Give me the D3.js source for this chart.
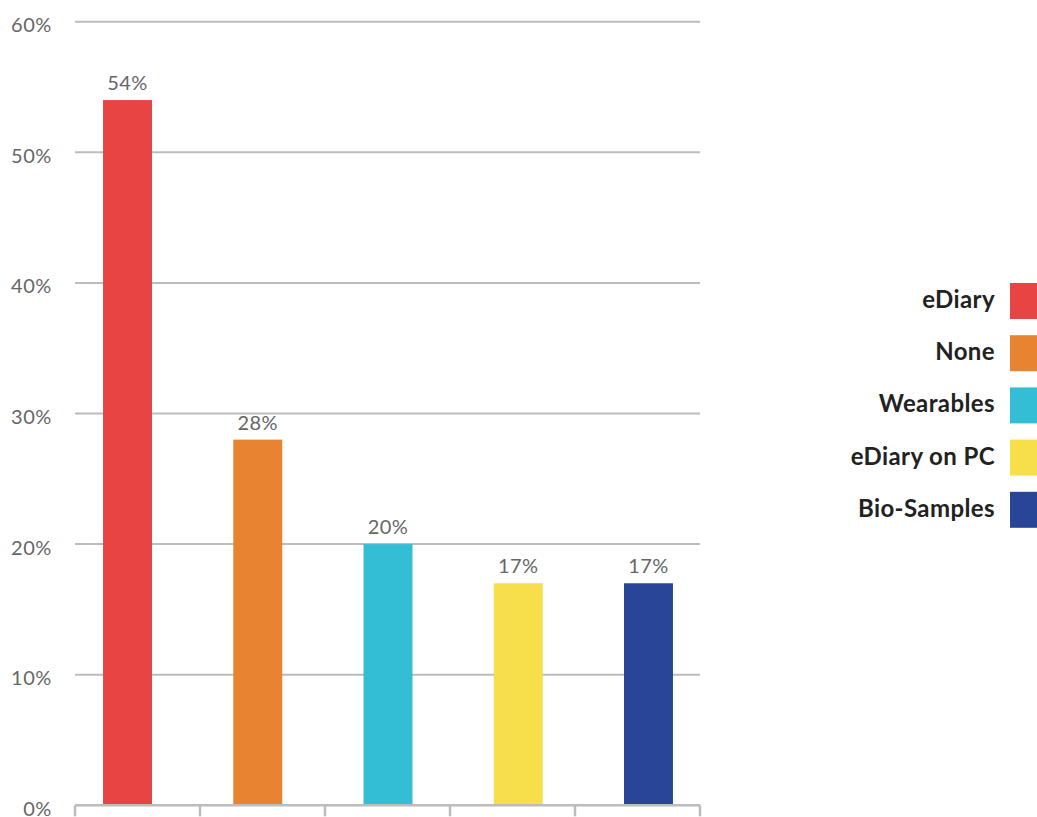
<!DOCTYPE html>
<html>
<head>
<meta charset="utf-8">
<script src="https://cdn.jsdelivr.net/npm/d3@7"></script>
<style>
  html, body { margin: 0; padding: 0; background: #fff; }
  svg { display: block; }
</style>
</head>
<body>
<svg id="chart" width="1037" height="817"></svg>
<script>
// Survey shares by category
const categories = ["eDiary", "None", "Wearables", "eDiary on PC", "Bio-Samples"];
const values = [54, 28, 20, 17, 17];
const colors = ["#e84444", "#e88332", "#33bed6", "#f7de4b", "#284597"];
const yTicks = [0, 10, 20, 30, 40, 50, 60];

const svg = d3.select("#chart");
const font = "Lato, 'Open Sans', sans-serif";

const x0 = 75, x1 = 700, yTop = 21.7, yBase = 805.3;

const y = d3.scaleLinear().domain([0, 60]).range([yBase, yTop]);

// Category slots along the baseline (tick marks)
const xAxisScale = d3.scaleBand().domain(categories).range([x0, x1]);
// Bar placement
const xBar = d3.scaleBand().domain(categories).range([62.4, 713.6]).paddingInner(0.624).paddingOuter(0.312);

// Gridlines
svg.append("g")
  .selectAll("line")
  .data(yTicks.filter(d => d > 0))
  .join("line")
  .attr("x1", x0).attr("x2", x1)
  .attr("y1", d => y(d)).attr("y2", d => y(d))
  .attr("stroke", "#bcbcbc").attr("stroke-width", 2);

// Y tick labels
svg.append("g")
  .selectAll("text")
  .data(yTicks)
  .join("text")
  .attr("x", 52)
  .attr("y", d => y(d) + 10.5)
  .attr("text-anchor", "end")
  .attr("font-family", font)
  .attr("font-size", 20)
  .attr("letter-spacing", 0.6)
  .attr("fill", "#666")
  .text(d => d + "%");

// Bars
svg.append("g")
  .selectAll("rect")
  .data(categories)
  .join("rect")
  .attr("x", d => xBar(d))
  .attr("width", xBar.bandwidth())
  .attr("y", (d, i) => y(values[i]))
  .attr("height", (d, i) => yBase - y(values[i]))
  .attr("fill", (d, i) => colors[i]);

// Value labels
svg.append("g")
  .selectAll("text")
  .data(categories)
  .join("text")
  .attr("x", d => xBar(d) + xBar.bandwidth() / 2)
  .attr("y", (d, i) => y(values[i]) - 10)
  .attr("text-anchor", "middle")
  .attr("font-family", font)
  .attr("font-size", 20)
  .attr("letter-spacing", 0.4)
  .attr("fill", "#666")
  .text((d, i) => values[i] + "%");

// Baseline with tick marks
const tickX = categories.map(c => xAxisScale(c)).concat([x1]);
const axis = svg.append("g");
axis.append("line")
  .attr("x1", x0).attr("x2", x1)
  .attr("y1", yBase).attr("y2", yBase)
  .attr("stroke", "#bcbcbc").attr("stroke-width", 2.5);
axis.selectAll("line.tick")
  .data(tickX)
  .join("line")
  .attr("class", "tick")
  .attr("x1", d => d).attr("x2", d => d)
  .attr("y1", yBase).attr("y2", yBase + 11)
  .attr("stroke", "#bcbcbc").attr("stroke-width", 2.5);

// Legend
const legend = svg.append("g");
const legendTop = 283, legendStep = 52.2;
categories.forEach((c, i) => {
  const ly = legendTop + i * legendStep;
  legend.append("rect")
    .attr("x", 1010).attr("y", ly)
    .attr("width", 27).attr("height", 36)
    .attr("fill", colors[i]);
  legend.append("text")
    .attr("x", 995).attr("y", ly + 25)
    .attr("text-anchor", "end")
    .attr("font-family", font)
    .attr("font-weight", 700)
    .attr("font-size", 24)
    .attr("letter-spacing", 0.4)
    .attr("fill", "#222")
    .text(c);
});
</script>
</body>
</html>
